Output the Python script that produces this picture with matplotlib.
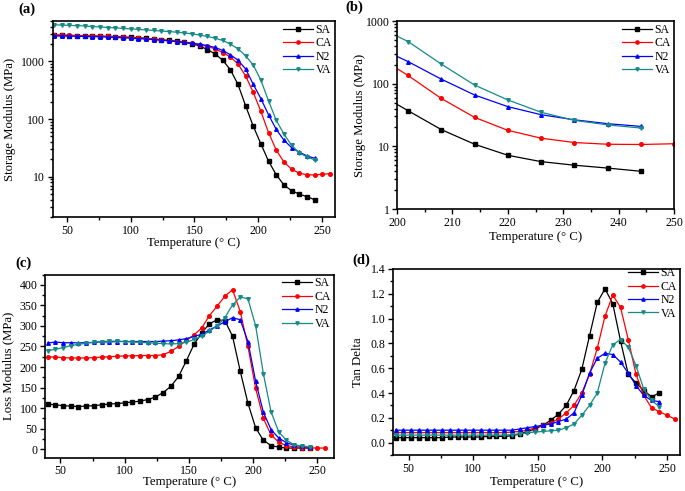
import matplotlib
matplotlib.use("Agg")
import matplotlib.pyplot as plt
from matplotlib.ticker import MultipleLocator, LogLocator, NullFormatter, FixedLocator

plt.rcParams['font.family'] = ['Liberation Serif', 'DejaVu Serif']

# ---------------- data ----------------
T = [40, 46, 52, 58, 64, 70, 76, 82, 88, 94, 100, 106, 112, 118, 124, 130, 136,
     142, 148, 154, 160, 166, 172, 178, 184, 190, 196, 202, 208, 214, 220, 226,
     232, 238, 244]
T_CA = T + [250, 256]

series_names = ["SA", "CA", "N2", "VA"]
colors = ["#000000", "#ff0000", "#0000ff", "#168a86"]
markers = ["s", "o", "^", "v"]

# Storage modulus (MPa)
E_SA = [2850, 2830, 2800, 2780, 2760, 2740, 2720, 2700, 2680, 2640, 2600, 2560,
        2500, 2440, 2370, 2300, 2220, 2130, 2020, 1850, 1600, 1350, 1050, 720,
        400, 170, 75, 37, 18.5, 10.8, 7.2, 5.7, 5.0, 4.5, 4.0]
E_CA = [2850, 2850, 2830, 2800, 2780, 2760, 2730, 2700, 2660, 2620, 2580, 2540,
        2480, 2420, 2350, 2280, 2200, 2120, 2050, 1950, 1820, 1650, 1420, 1200,
        900, 560, 290, 135, 58, 29, 18, 13.5, 11.5, 10.8, 10.7, 11.0, 11.3]
E_N2 = [2750, 2750, 2740, 2720, 2700, 2680, 2660, 2630, 2600, 2560, 2520, 2480,
        2430, 2380, 2320, 2260, 2200, 2130, 2060, 1980, 1880, 1740, 1550, 1300,
        1050, 740, 400, 225, 118, 66, 43, 32, 26.5, 23, 20.8]
E_VA = [4300, 4250, 4200, 4150, 4100, 4000, 3950, 3850, 3800, 3720, 3650, 3580,
        3500, 3430, 3350, 3280, 3200, 3100, 3000, 2850, 2700, 2520, 2300, 2000,
        1650, 1250, 860, 470, 205, 95, 55, 35, 26, 22, 19.6]

# Loss modulus (MPa)
L_SA = [110, 108, 106, 105, 104, 105, 106, 108, 110, 111, 113, 115, 117, 121,
        127, 138, 153, 177, 215, 255, 283, 305, 315, 313, 275, 190, 112, 52, 22,
        9, 5, 3, 3, 3, 3]
L_CA = [225, 224, 223, 222, 222, 222, 223, 224, 225, 226, 227, 227, 228, 228,
        228, 230, 238, 250, 265, 278, 295, 325, 348, 372, 388, 335, 250, 148, 75,
        35, 17, 9, 6, 4, 3.5, 3, 3]
L_N2 = [258, 261, 259, 259, 259, 259, 260, 261, 261, 262, 262, 262, 262, 262,
        262, 263, 264, 266, 269, 274, 280, 290, 300, 310, 320, 315, 262, 165, 90,
        48, 27, 16, 10, 7, 6]
L_VA = [240, 243, 247, 252, 255, 258, 260, 262, 263, 263, 262, 261, 260, 259,
        258, 257, 256, 257, 260, 267, 275, 287, 300, 320, 351, 370, 366, 300, 184,
        91, 42, 22, 11, 8, 6]

# Tan delta
D_SA = [0.04, 0.04, 0.04, 0.04, 0.04, 0.04, 0.04, 0.045, 0.045, 0.045, 0.045,
        0.045, 0.05, 0.05, 0.05, 0.055, 0.07, 0.09, 0.11, 0.14, 0.18, 0.23, 0.30,
        0.42, 0.59, 0.86, 1.13, 1.24, 1.12, 0.82, 0.55, 0.48, 0.42, 0.37, 0.40]
D_CA = [0.08, 0.08, 0.08, 0.08, 0.08, 0.08, 0.08, 0.08, 0.08, 0.08, 0.08, 0.08,
        0.08, 0.08, 0.08, 0.085, 0.09, 0.10, 0.12, 0.14, 0.16, 0.19, 0.24, 0.30,
        0.40, 0.55, 0.76, 1.02, 1.19, 1.09, 0.83, 0.55, 0.38, 0.28, 0.25, 0.22,
        0.19]
D_N2 = [0.10, 0.10, 0.10, 0.10, 0.10, 0.10, 0.10, 0.10, 0.10, 0.10, 0.10, 0.10,
        0.10, 0.10, 0.10, 0.10, 0.11, 0.12, 0.13, 0.14, 0.15, 0.17, 0.19, 0.24,
        0.38, 0.56, 0.68, 0.72, 0.71, 0.65, 0.56, 0.46, 0.38, 0.34, 0.33]
D_VA = [0.06, 0.06, 0.06, 0.06, 0.06, 0.06, 0.06, 0.06, 0.06, 0.06, 0.06, 0.06,
        0.06, 0.06, 0.06, 0.065, 0.07, 0.08, 0.085, 0.09, 0.095, 0.10, 0.12, 0.15,
        0.22, 0.30, 0.40, 0.64, 0.79, 0.83, 0.77, 0.62, 0.43, 0.34, 0.29]

storage = [E_SA, E_CA, E_N2, E_VA]
loss = [L_SA, L_CA, L_N2, L_VA]
tand = [D_SA, D_CA, D_N2, D_VA]
temps = [T, T_CA, T, T]

# ---------------- figure ----------------
fig = plt.figure(figsize=(6.85, 4.91), dpi=100)
W, H = 685, 491

def add_ax(l, t, r, b):
    return fig.add_axes([l / W, 1 - b / H, (r - l) / W, (b - t) / H])

axA = add_ax(52.7, 21, 335, 217)
axB = add_ax(397, 21, 674, 209)
axC = add_ax(45, 274.5, 334, 457.5)
axD = add_ax(393, 269, 680, 455)

TFS = 8.5   # tick labels
LFS = 9.2   # axis labels

def style(ax, xlab, ylab, xlab_y, ylab_x):
    for s in ["top", "right", "left", "bottom"]:
        ax.spines[s].set_linewidth(1.2)
    ax.tick_params(which="both", direction="out", top=False, right=False,
                   labelsize=TFS, width=1.0, pad=2)
    ax.tick_params(which="major", length=3.5)
    ax.tick_params(which="minor", length=2)
    ax.set_xlabel(xlab, fontsize=LFS, va="center")
    ax.set_ylabel(ylab, fontsize=LFS, va="center")
    ax.xaxis.set_label_coords(0.5, xlab_y)
    ax.yaxis.set_label_coords(ylab_x, 0.5)

def plot_series(ax, datasets, anchor=(1.0, 1.0)):
    for name, c, m, x, y in zip(series_names, colors, markers, temps, datasets):
        ax.plot(x, y, color=c, marker=m, markersize=2.6, linewidth=0.9,
                label=name)
    ax.legend(loc="upper right", bbox_to_anchor=anchor, frameon=False,
              fontsize=8.5, handlelength=2.6, labelspacing=0.12,
              borderaxespad=0.1, handletextpad=0.2, markerscale=0.9,
              borderpad=0.15)

XL = "Temperature (° C)"

# (a)
plot_series(axA, storage)
axA.set_yscale("log")
axA.set_xlim(39, 260)
axA.set_ylim(2, 5000)
axA.xaxis.set_major_locator(MultipleLocator(50))
axA.xaxis.set_minor_locator(MultipleLocator(25))
axA.yaxis.set_major_locator(FixedLocator([10, 100, 1000]))
axA.yaxis.set_major_formatter(plt.FuncFormatter(lambda v, p: f"{int(v)}"))
axA.yaxis.set_minor_locator(LogLocator(base=10, subs=range(2, 10)))
axA.yaxis.set_minor_formatter(NullFormatter())
style(axA, XL, "Storage Modulus (MPa)", -0.133, -0.151)

# (b)
plot_series(axB, storage)
axB.set_yscale("log")
axB.set_xlim(200, 250)
axB.set_ylim(1, 1000)
axB.xaxis.set_major_locator(MultipleLocator(10))
axB.xaxis.set_minor_locator(MultipleLocator(5))
axB.yaxis.set_major_locator(FixedLocator([1, 10, 100, 1000]))
axB.yaxis.set_major_formatter(plt.FuncFormatter(lambda v, p: f"{int(v)}"))
axB.yaxis.set_minor_locator(LogLocator(base=10, subs=range(2, 10)))
axB.yaxis.set_minor_formatter(NullFormatter())
style(axB, XL, "Storage Modulus (MPa)", -0.149, -0.134)

# (c)
plot_series(axC, loss)
axC.set_xlim(38, 263)
axC.set_ylim(-20, 425)
axC.xaxis.set_major_locator(MultipleLocator(50))
axC.xaxis.set_minor_locator(MultipleLocator(25))
axC.yaxis.set_major_locator(MultipleLocator(50))
axC.yaxis.set_minor_locator(MultipleLocator(25))
style(axC, XL, "Loss Modulus (MPa)", -0.134, -0.128)

# (d)
plot_series(axD, tand, anchor=(1.0, 1.025))
axD.set_xlim(38, 260)
axD.set_ylim(-0.1, 1.4)
axD.xaxis.set_major_locator(MultipleLocator(50))
axD.xaxis.set_minor_locator(MultipleLocator(25))
axD.yaxis.set_major_locator(MultipleLocator(0.2))
axD.yaxis.set_minor_locator(MultipleLocator(0.1))
axD.yaxis.set_major_formatter(plt.FuncFormatter(lambda v, p: f"{v:.1f}"))
style(axD, XL, "Tan Delta", -0.145, -0.122)

# panel labels
for lbl, x, y in [("(a)", 18, 9), ("(b)", 345, 7), ("(c)", 15, 263), ("(d)", 352, 260)]:
    fig.text(x / W, 1 - y / H, lbl, fontsize=10.5, fontweight="bold",
             va="center", ha="left")

fig.savefig("out.png", dpi=100)
